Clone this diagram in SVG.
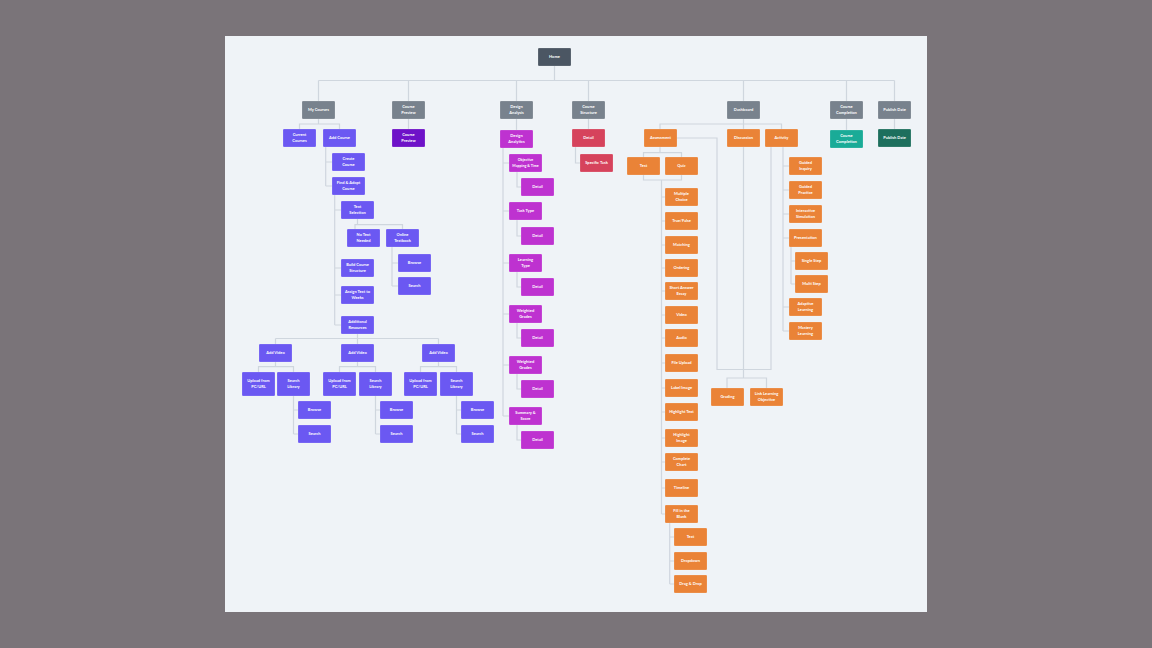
<svg xmlns="http://www.w3.org/2000/svg" width="1152" height="648" viewBox="0 0 1152 648">
<style>
.n{stroke:#ffffff;stroke-opacity:.35;stroke-width:.5}
.hm{fill:#4b5663}.gr{fill:#78828d}.pu{fill:#6b58f2}.vi{fill:#6e12c8}.mg{fill:#be32d0}.rd{fill:#d6435c}.or{fill:#ea8337}.te{fill:#1aab97}.dg{fill:#1d6f5d}
text{font-family:Lato,"Open Sans",sans-serif;font-weight:700;font-size:4px;fill:#ffffff;text-anchor:middle}
.c{fill:none;stroke:#cfd6de;stroke-width:1.2}
</style>
<rect width="1152" height="648" fill="#7a7479"/>
<rect x="225" y="36" width="702" height="576" fill="#eff3f7"/>
<g id="connectors" class="c">
<path class="c" d="M554.5 66V80.5M318.5 80.5H894.5M318.5 80.5V101M408.5 80.5V101M516.5 80.5V101M588.5 80.5V101M743.5 80.5V101M846.5 80.5V101M894.5 80.5V101"/>
<path class="c" d="M318.5 119V124M299.5 129V124H339.5V129"/>
<path class="c" d="M325.7 147V186M325.7 162H332M325.7 186H332"/>
<path class="c" d="M334.7 195V325M334.7 210H341M334.7 268H341M334.7 295H341M334.7 325H341"/>
<path class="c" d="M357.5 219V224.7M355 229V224.7H402.5V229"/>
<path class="c" d="M392 247V286M392 263H398M392 286H398"/>
<path class="c" d="M357.5 334V344M275.5 338.5H438.5M275.5 338.5V344M438.5 338.5V344"/>
<path class="c" d="M275.5 362V366.7M258.5 372V366.7H293.5V372M293.5 396V434M293.5 410H298M293.5 434H298"/>
<path class="c" d="M357.5 362V366.7M339.5 372V366.7H375.5V372M375.5 396V434M375.5 410H380M375.5 434H380"/>
<path class="c" d="M438.5 362V366.7M420.5 372V366.7H456.5V372M456.5 396V434M456.5 410H461M456.5 434H461"/>
<path class="c" d="M408.5 119V129"/>
<path class="c" d="M516.5 119V130"/>
<path class="c" d="M503 148V416M503 163H509M503 211H509M503 263H509M503 314H509M503 365H509M503 416H509"/>
<path class="c" d="M517 172V187H521M517 220V236H521M517 272V287H521M517 323V338H521M517 374V389H521M517 425V440H521"/>
<path class="c" d="M588.5 119V129M575.5 147V163H580"/>
<path class="c" d="M743.5 119V129M660 129V124H781.5V129"/>
<path class="c" d="M660 147V152.7M643.5 157V152.7H681.5V157"/>
<path class="c" d="M643.5 175V180H681.5V175M661.5 180V514"/>
<path class="c" d="M661.5 197H665M661.5 221H665M661.5 245H665M661.5 268H665M661.5 291H665M661.5 315H665M661.5 338H665M661.5 363H665M661.5 388H665M661.5 412H665M661.5 438H665M661.5 462H665M661.5 488H665M661.5 514H665"/>
<path class="c" d="M669.7 523V584M669.7 537H674M669.7 561H674M669.7 584H674"/>
<path class="c" d="M676.5 138H717V369.5H771V147"/>
<path class="c" d="M743.5 147V378M727 388V378H766.5V388"/>
<path class="c" d="M783 147V331M783 166H789M783 190H789M783 214H789M783 238H789M783 307H789M783 331H789"/>
<path class="c" d="M791 247V284M791 261H795M791 284H795"/>
<path class="c" d="M846.5 119V130M894.5 119V129"/>
</g>
<g id="home"><rect class="n hm" x="538" y="48" width="33" height="18" rx="1"/><text x="554.5" y="58.4">Home</text></g>
<g id="my-courses"><rect class="n gr" x="302" y="101" width="33" height="18" rx="1"/><text x="318.5" y="111.4">My Courses</text></g>
<g id="course-preview"><rect class="n gr" x="392" y="101" width="33" height="18" rx="1"/><text x="408.5" y="108.4">Course</text><text x="408.5" y="114.4">Preview</text></g>
<g id="design-analysis"><rect class="n gr" x="500" y="101" width="33" height="18" rx="1"/><text x="516.5" y="108.4">Design</text><text x="516.5" y="114.4">Analysis</text></g>
<g id="course-structure"><rect class="n gr" x="572" y="101" width="33" height="18" rx="1"/><text x="588.5" y="108.4">Course</text><text x="588.5" y="114.4">Structure</text></g>
<g id="dashboard"><rect class="n gr" x="727" y="101" width="33" height="18" rx="1"/><text x="743.5" y="111.4">Dashboard</text></g>
<g id="course-completion"><rect class="n gr" x="830" y="101" width="33" height="18" rx="1"/><text x="846.5" y="108.4">Course</text><text x="846.5" y="114.4">Completion</text></g>
<g id="publish-date"><rect class="n gr" x="878" y="101" width="33" height="18" rx="1"/><text x="894.5" y="111.4">Publish Date</text></g>
<g id="current-courses"><rect class="n pu" x="283" y="129" width="33" height="18" rx="1"/><text x="299.5" y="136.4">Current</text><text x="299.5" y="142.4">Courses</text></g>
<g id="add-course"><rect class="n pu" x="323" y="129" width="33" height="18" rx="1"/><text x="339.5" y="139.4">Add Course</text></g>
<g id="course-preview-page"><rect class="n vi" x="392" y="129" width="33" height="18" rx="1"/><text x="408.5" y="136.4">Course</text><text x="408.5" y="142.4">Preview</text></g>
<g id="design-analytics"><rect class="n mg" x="500" y="130" width="33" height="18" rx="1"/><text x="516.5" y="137.4">Design</text><text x="516.5" y="143.4">Analytics</text></g>
<g id="cs-detail"><rect class="n rd" x="572" y="129" width="33" height="18" rx="1"/><text x="588.5" y="139.4">Detail</text></g>
<g id="specific-task"><rect class="n rd" x="580" y="154" width="33" height="18" rx="1"/><text x="596.5" y="164.4">Specific Task</text></g>
<g id="assessment"><rect class="n or" x="644" y="129" width="33" height="18" rx="1"/><text x="660.5" y="139.4">Assessment</text></g>
<g id="discussion"><rect class="n or" x="727" y="129" width="33" height="18" rx="1"/><text x="743.5" y="139.4">Discussion</text></g>
<g id="activity"><rect class="n or" x="765" y="129" width="33" height="18" rx="1"/><text x="781.5" y="139.4">Activity</text></g>
<g id="course-completion-page"><rect class="n te" x="830" y="130" width="33" height="18" rx="1"/><text x="846.5" y="137.4">Course</text><text x="846.5" y="143.4">Completion</text></g>
<g id="publish-date-page"><rect class="n dg" x="878" y="129" width="33" height="18" rx="1"/><text x="894.5" y="139.4">Publish Date</text></g>
<g id="create-course"><rect class="n pu" x="332" y="153" width="33" height="18" rx="1"/><text x="348.5" y="160.4">Create</text><text x="348.5" y="166.4">Course</text></g>
<g id="find-adopt"><rect class="n pu" x="332" y="177" width="33" height="18" rx="1"/><text x="348.5" y="184.4">Find &amp; Adopt</text><text x="348.5" y="190.4">Course</text></g>
<g id="text-selection"><rect class="n pu" x="341" y="201" width="33" height="18" rx="1"/><text x="357.5" y="208.4">Text</text><text x="357.5" y="214.4">Selection</text></g>
<g id="no-text"><rect class="n pu" x="347" y="229" width="33" height="18" rx="1"/><text x="363.5" y="236.4">No Text</text><text x="363.5" y="242.4">Needed</text></g>
<g id="online-textbook"><rect class="n pu" x="386" y="229" width="33" height="18" rx="1"/><text x="402.5" y="236.4">Online</text><text x="402.5" y="242.4">Textbook</text></g>
<g id="ot-browse"><rect class="n pu" x="398" y="254" width="33" height="18" rx="1"/><text x="414.5" y="264.4">Browse</text></g>
<g id="ot-search"><rect class="n pu" x="398" y="277" width="33" height="18" rx="1"/><text x="414.5" y="287.4">Search</text></g>
<g id="build-structure"><rect class="n pu" x="341" y="259" width="33" height="18" rx="1"/><text x="357.5" y="266.4">Build Course</text><text x="357.5" y="272.4">Structure</text></g>
<g id="assign-text"><rect class="n pu" x="341" y="286" width="33" height="18" rx="1"/><text x="357.5" y="293.4">Assign Text to</text><text x="357.5" y="299.4">Weeks</text></g>
<g id="additional-resources"><rect class="n pu" x="341" y="316" width="33" height="18" rx="1"/><text x="357.5" y="323.4">Additional</text><text x="357.5" y="329.4">Resources</text></g>
<g id="add-video-1"><rect class="n pu" x="259" y="344" width="33" height="18" rx="1"/><text x="275.5" y="354.4">Add Video</text></g>
<g id="add-video-2"><rect class="n pu" x="341" y="344" width="33" height="18" rx="1"/><text x="357.5" y="354.4">Add Video</text></g>
<g id="add-video-3"><rect class="n pu" x="422" y="344" width="33" height="18" rx="1"/><text x="438.5" y="354.4">Add Video</text></g>
<g id="upload-1"><rect class="n pu" x="242" y="372" width="33" height="24" rx="1"/><text x="258.5" y="382.4">Upload from</text><text x="258.5" y="388.4">PC/URL</text></g>
<g id="search-library-1"><rect class="n pu" x="277" y="372" width="33" height="24" rx="1"/><text x="293.5" y="382.4">Search</text><text x="293.5" y="388.4">Library</text></g>
<g id="browse-1"><rect class="n pu" x="298" y="401" width="33" height="18" rx="1"/><text x="314.5" y="411.4">Browse</text></g>
<g id="search-1"><rect class="n pu" x="298" y="425" width="33" height="18" rx="1"/><text x="314.5" y="435.4">Search</text></g>
<g id="upload-2"><rect class="n pu" x="323" y="372" width="33" height="24" rx="1"/><text x="339.5" y="382.4">Upload from</text><text x="339.5" y="388.4">PC/URL</text></g>
<g id="search-library-2"><rect class="n pu" x="359" y="372" width="33" height="24" rx="1"/><text x="375.5" y="382.4">Search</text><text x="375.5" y="388.4">Library</text></g>
<g id="browse-2"><rect class="n pu" x="380" y="401" width="33" height="18" rx="1"/><text x="396.5" y="411.4">Browse</text></g>
<g id="search-2"><rect class="n pu" x="380" y="425" width="33" height="18" rx="1"/><text x="396.5" y="435.4">Search</text></g>
<g id="upload-3"><rect class="n pu" x="404" y="372" width="33" height="24" rx="1"/><text x="420.5" y="382.4">Upload from</text><text x="420.5" y="388.4">PC/URL</text></g>
<g id="search-library-3"><rect class="n pu" x="440" y="372" width="33" height="24" rx="1"/><text x="456.5" y="382.4">Search</text><text x="456.5" y="388.4">Library</text></g>
<g id="browse-3"><rect class="n pu" x="461" y="401" width="33" height="18" rx="1"/><text x="477.5" y="411.4">Browse</text></g>
<g id="search-3"><rect class="n pu" x="461" y="425" width="33" height="18" rx="1"/><text x="477.5" y="435.4">Search</text></g>
<g id="objective-mapping"><rect class="n mg" x="509" y="154" width="33" height="18" rx="1"/><text x="525.5" y="161.4" style="font-size:3.6px">Objective</text><text x="525.5" y="167.4" style="font-size:3.6px">Mapping &amp; Time</text></g>
<g id="detail-1"><rect class="n mg" x="521" y="178" width="33" height="18" rx="1"/><text x="537.5" y="188.4">Detail</text></g>
<g id="task-type"><rect class="n mg" x="509" y="202" width="33" height="18" rx="1"/><text x="525.5" y="212.4">Task Type</text></g>
<g id="detail-2"><rect class="n mg" x="521" y="227" width="33" height="18" rx="1"/><text x="537.5" y="237.4">Detail</text></g>
<g id="learning-type"><rect class="n mg" x="509" y="254" width="33" height="18" rx="1"/><text x="525.5" y="261.4">Learning</text><text x="525.5" y="267.4">Type</text></g>
<g id="detail-3"><rect class="n mg" x="521" y="278" width="33" height="18" rx="1"/><text x="537.5" y="288.4">Detail</text></g>
<g id="weighted-grades-1"><rect class="n mg" x="509" y="305" width="33" height="18" rx="1"/><text x="525.5" y="312.4">Weighted</text><text x="525.5" y="318.4">Grades</text></g>
<g id="detail-4"><rect class="n mg" x="521" y="329" width="33" height="18" rx="1"/><text x="537.5" y="339.4">Detail</text></g>
<g id="weighted-grades-2"><rect class="n mg" x="509" y="356" width="33" height="18" rx="1"/><text x="525.5" y="363.4">Weighted</text><text x="525.5" y="369.4">Grades</text></g>
<g id="detail-5"><rect class="n mg" x="521" y="380" width="33" height="18" rx="1"/><text x="537.5" y="390.4">Detail</text></g>
<g id="summary-score"><rect class="n mg" x="509" y="407" width="33" height="18" rx="1"/><text x="525.5" y="414.4">Summary &amp;</text><text x="525.5" y="420.4">Score</text></g>
<g id="detail-6"><rect class="n mg" x="521" y="431" width="33" height="18" rx="1"/><text x="537.5" y="441.4">Detail</text></g>
<g id="test"><rect class="n or" x="627" y="157" width="33" height="18" rx="1"/><text x="643.5" y="167.4">Test</text></g>
<g id="quiz"><rect class="n or" x="665" y="157" width="33" height="18" rx="1"/><text x="681.5" y="167.4">Quiz</text></g>
<g id="multiple-choice"><rect class="n or" x="665" y="188" width="33" height="18" rx="1"/><text x="681.5" y="195.4">Multiple</text><text x="681.5" y="201.4">Choice</text></g>
<g id="true-false"><rect class="n or" x="665" y="212" width="33" height="18" rx="1"/><text x="681.5" y="222.4">True/False</text></g>
<g id="matching"><rect class="n or" x="665" y="236" width="33" height="18" rx="1"/><text x="681.5" y="246.4">Matching</text></g>
<g id="ordering"><rect class="n or" x="665" y="259" width="33" height="18" rx="1"/><text x="681.5" y="269.4">Ordering</text></g>
<g id="short-answer"><rect class="n or" x="665" y="282" width="33" height="18" rx="1"/><text x="681.5" y="289.4">Short Answer</text><text x="681.5" y="295.4">Essay</text></g>
<g id="video"><rect class="n or" x="665" y="306" width="33" height="18" rx="1"/><text x="681.5" y="316.4">Video</text></g>
<g id="audio"><rect class="n or" x="665" y="329" width="33" height="18" rx="1"/><text x="681.5" y="339.4">Audio</text></g>
<g id="file-upload"><rect class="n or" x="665" y="354" width="33" height="18" rx="1"/><text x="681.5" y="364.4">File Upload</text></g>
<g id="label-image"><rect class="n or" x="665" y="379" width="33" height="18" rx="1"/><text x="681.5" y="389.4">Label Image</text></g>
<g id="highlight-text"><rect class="n or" x="665" y="403" width="33" height="18" rx="1"/><text x="681.5" y="413.4">Highlight Text</text></g>
<g id="highlight-image"><rect class="n or" x="665" y="429" width="33" height="18" rx="1"/><text x="681.5" y="436.4">Highlight</text><text x="681.5" y="442.4">Image</text></g>
<g id="complete-chart"><rect class="n or" x="665" y="453" width="33" height="18" rx="1"/><text x="681.5" y="460.4">Complete</text><text x="681.5" y="466.4">Chart</text></g>
<g id="timeline"><rect class="n or" x="665" y="479" width="33" height="18" rx="1"/><text x="681.5" y="489.4">Timeline</text></g>
<g id="fill-blank"><rect class="n or" x="665" y="505" width="33" height="18" rx="1"/><text x="681.5" y="512.4">Fill in the</text><text x="681.5" y="518.4">Blank</text></g>
<g id="fb-text"><rect class="n or" x="674" y="528" width="33" height="18" rx="1"/><text x="690.5" y="538.4">Text</text></g>
<g id="fb-dropdown"><rect class="n or" x="674" y="552" width="33" height="18" rx="1"/><text x="690.5" y="562.4">Dropdown</text></g>
<g id="fb-drag-drop"><rect class="n or" x="674" y="575" width="33" height="18" rx="1"/><text x="690.5" y="585.4">Drag &amp; Drop</text></g>
<g id="grading"><rect class="n or" x="711" y="388" width="33" height="18" rx="1"/><text x="727.5" y="398.4">Grading</text></g>
<g id="link-learning-objective"><rect class="n or" x="750" y="388" width="33" height="18" rx="1"/><text x="766.5" y="395.4">Link Learning</text><text x="766.5" y="401.4">Objective</text></g>
<g id="guided-inquiry"><rect class="n or" x="789" y="157" width="33" height="18" rx="1"/><text x="805.5" y="164.4">Guided</text><text x="805.5" y="170.4">Inquiry</text></g>
<g id="guided-practice"><rect class="n or" x="789" y="181" width="33" height="18" rx="1"/><text x="805.5" y="188.4">Guided</text><text x="805.5" y="194.4">Practice</text></g>
<g id="interactive-simulation"><rect class="n or" x="789" y="205" width="33" height="18" rx="1"/><text x="805.5" y="212.4">Interactive</text><text x="805.5" y="218.4">Simulation</text></g>
<g id="presentation"><rect class="n or" x="789" y="229" width="33" height="18" rx="1"/><text x="805.5" y="239.4">Presentation</text></g>
<g id="single-step"><rect class="n or" x="795" y="252" width="33" height="18" rx="1"/><text x="811.5" y="262.4">Single Step</text></g>
<g id="multi-step"><rect class="n or" x="795" y="275" width="33" height="18" rx="1"/><text x="811.5" y="285.4">Multi Step</text></g>
<g id="adaptive-learning"><rect class="n or" x="789" y="298" width="33" height="18" rx="1"/><text x="805.5" y="305.4">Adaptive</text><text x="805.5" y="311.4">Learning</text></g>
<g id="mastery-learning"><rect class="n or" x="789" y="322" width="33" height="18" rx="1"/><text x="805.5" y="329.4">Mastery</text><text x="805.5" y="335.4">Learning</text></g>
</svg>
